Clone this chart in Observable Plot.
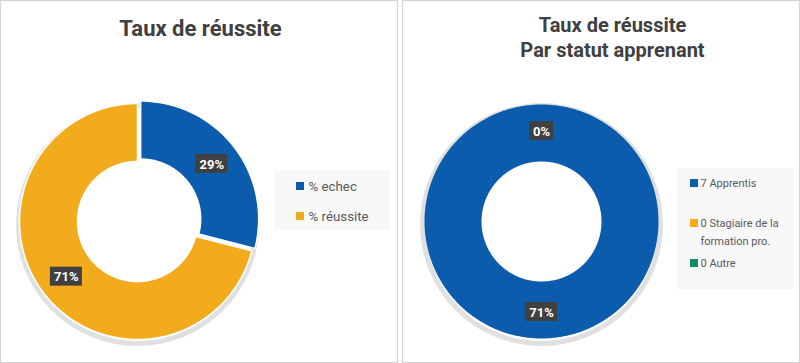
<!DOCTYPE html>
<html>
<head>
<meta charset="utf-8">
<script src="https://cdn.jsdelivr.net/npm/d3@7"></script>
<script src="https://cdn.jsdelivr.net/npm/@observablehq/plot@0.6"></script>
<style>
  html, body { margin: 0; padding: 0; background: #ffffff; }
  #chart svg { display: block; }
  g[aria-label="label-box"] { filter: drop-shadow(1px 1px 2px rgba(0,0,0,0.45)); }
  g[aria-label="shadow"] { filter: blur(5px); }
</style>
</head>
<body>
<div id="chart"></div>
<script>
// ---- Data ----
const leftTitle = ["Taux de réussite"];
const leftCategories = ["% echec", "% réussite"];
const leftValues = [29, 71];
const leftLabels = ["29%", "71%"];

const rightTitle = ["Taux de réussite", "Par statut apprenant"];
const rightCategories = ["7 Apprentis", "0 Stagiaire de la formation pro.", "0 Autre"];
const rightLegendLines = [["7 Apprentis"], ["0 Stagiaire de la", "formation pro."], ["0 Autre"]];
const rightValues = [7, 0, 0];
const rightLabels = ["71%", "0%", null];

const colors = ["#0b5cad", "#f2ab1d", "#128a6c"];

// ---- Layout helpers ----
const W = 800, H = 363;
const pie = d3.pie().sort(null).value(d => d.value);

function donutRings(values, cats, cx, cy, rIn, rOut, explode) {
  const arcs = pie(values.map((v, k) => ({value: v, cat: cats[k], k})));
  const polys = [];
  arcs.forEach((a, k) => {
    if (!(a.endAngle - a.startAngle > 0)) return;
    const mid = (a.startAngle + a.endAngle) / 2;
    const off = explode[k] || 0;
    const ox = cx + off * Math.sin(mid), oy = cy - off * Math.cos(mid);
    const n = Math.max(2, Math.ceil((a.endAngle - a.startAngle) / (Math.PI / 180)));
    const pts = [];
    for (let j = 0; j <= n; j++) {
      const t = a.startAngle + (a.endAngle - a.startAngle) * j / n;
      pts.push({px: ox + rOut * Math.sin(t), py: oy - rOut * Math.cos(t)});
    }
    for (let j = n; j >= 0; j--) {
      const t = a.startAngle + (a.endAngle - a.startAngle) * j / n;
      pts.push({px: ox + rIn * Math.sin(t), py: oy - rIn * Math.cos(t)});
    }
    const full = a.endAngle - a.startAngle >= 2 * Math.PI - 1e-9;
    polys.push({k, pts, full});
  });
  return {arcs, polys};
}

function labelPoints(arcs, labels, cx, cy, r, explode) {
  const out = [];
  arcs.forEach((a, k) => {
    const lab = labels[k];
    if (lab == null) return;
    const mid = (a.startAngle + a.endAngle) / 2;
    const rr = r + (explode[k] || 0);
    out.push({x: cx + rr * Math.sin(mid), y: cy - rr * Math.cos(mid), text: lab});
  });
  return out;
}

const L = {cx: 137, cy: 221, rIn: 60, rOut: 118, explode: [4, 0]};
const R = {cx: 541, cy: 221, rIn: 60, rOut: 117, explode: [0, 0, 0]};

const left = donutRings(leftValues, leftCategories, L.cx, L.cy, L.rIn, L.rOut, L.explode);
const right = donutRings(rightValues, rightCategories, R.cx, R.cy, R.rIn, R.rOut, R.explode);

const leftLab = labelPoints(left.arcs, leftLabels, L.cx, L.cy, 90, L.explode);
const rightLab = labelPoints(right.arcs, rightLabels, R.cx, R.cy, 90.5, R.explode);
const allLab = [...leftLab, ...rightLab].map(d => ({...d, w: d.text.length * 8 + 8}));

// legends
const leftLegend = leftCategories.map((c, i) => ({x: 300, y: 186 + i * 30, text: c, color: colors[i]}));
const rightLegendY = [183, 223, 263];
const rightLegendSq = rightLegendLines.map((lines, i) => ({x: 694, y: rightLegendY[i], color: colors[i]}));
const rightLegendText = rightLegendLines.flatMap((lines, i) => lines.map((t, j) => ({x: 700, y: rightLegendY[i] + j * 17.5, text: t})));

// titles
const titles = [
  ...leftTitle.map((t, j) => ({x: 200, y: 28 + j * 24, text: t, size: 22})),
  ...rightTitle.map((t, j) => ({x: 612, y: 25 + j * 25, text: t, size: 20}))
];

const donutMarks = [...left.polys, ...right.polys].map(p =>
  Plot.line(p.pts, {x: "px", y: "py", fill: colors[p.k], stroke: p.full ? "none" : "white", strokeWidth: 1.5, curve: "linear-closed"}));

const marks = [
  // panel frames
  Plot.rect([{x1: 0.5, x2: 397.5, y1: 0.5, y2: 362.5}, {x1: 402.5, x2: 799.5, y1: 0.5, y2: 362.5}],
    {x1: "x1", x2: "x2", y1: "y1", y2: "y2", fill: "white", stroke: "#d4d4d4", strokeWidth: 1.2}),
  // soft shadow behind donuts
  Plot.dot([{x: L.cx, y: L.cy + 3}, {x: R.cx, y: R.cy + 3}], {x: "x", y: "y", r: 119, fill: "none", stroke: "#000", strokeOpacity: 0.12, strokeWidth: 5, ariaLabel: "shadow"}),
  // legend boxes
  Plot.rect([{x1: 275, x2: 390, y1: 170, y2: 230}, {x1: 677, x2: 794, y1: 168, y2: 289}],
    {x1: "x1", x2: "x2", y1: "y1", y2: "y2", fill: "#f8f8f8"}),
  ...donutMarks,
  // data label boxes
  Plot.rect(allLab, {x1: d => d.x - d.w / 2, x2: d => d.x + d.w / 2, y1: d => d.y - 9.5, y2: d => d.y + 9.5,
    fill: "#404040", ariaLabel: "label-box"}),
  Plot.text(allLab, {x: "x", y: "y", text: "text", fill: "white", fontWeight: "bold", fontSize: 13,
    fontFamily: "Roboto, 'Open Sans', sans-serif", dy: 0.5}),
  // legend swatches
  Plot.rect([...leftLegend, ...rightLegendSq], {x1: d => d.x - 4, x2: d => d.x + 4, y1: d => d.y - 4, y2: d => d.y + 4,
    fill: d => d.color}),
  Plot.text(leftLegend, {x: d => d.x + 8, y: "y", text: "text", textAnchor: "start", fill: "#595959",
    fontSize: 13.3, fontFamily: "Roboto, sans-serif"}),
  Plot.text(rightLegendText, {x: "x", y: "y", text: "text", textAnchor: "start", fill: "#595959",
    fontSize: 11, fontFamily: "Roboto, sans-serif"}),
  // titles
  Plot.text(titles, {x: "x", y: "y", text: "text", fill: "#404040", fontWeight: "bold",
    fontSize: d => d.size, fontFamily: "Roboto, sans-serif"})
];

const chart = Plot.plot({
  width: W, height: H,
  margin: 0,
  x: {domain: [0, W], range: [0, W], axis: null},
  y: {domain: [0, H], range: [0, H], axis: null},
  style: {background: "white", overflow: "visible"},
  marks
});
document.getElementById("chart").appendChild(chart);
</script>
</body>
</html>
